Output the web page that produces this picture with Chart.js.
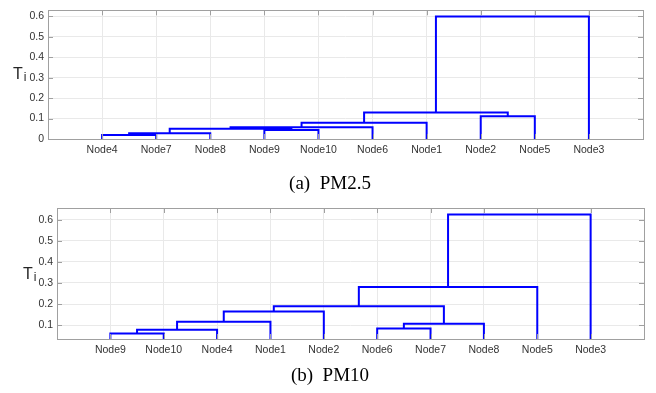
<!DOCTYPE html>
<html>
<head>
<meta charset="utf-8">
<script src="https://cdn.jsdelivr.net/npm/chart.js@4/dist/chart.umd.min.js"></script>
<style>
  body { margin: 0; background: #fff; width: 656px; height: 393px; position: relative; overflow: hidden; }
  canvas { position: absolute; left: 0; }
  .ylab { position: absolute; font-family: 'Liberation Sans', Arial, sans-serif; font-size: 16px; color: #262626; line-height: 1; }
  .ylab sub { font-size: 12px; position: relative; top: 2px; vertical-align: baseline; margin-left: 1px; }
  .cap { position: absolute; width: 656px; text-align: center; font-family: 'Liberation Serif', 'Times New Roman', serif; font-size: 19px; color: #000; }
</style>
</head>
<body>
<canvas id="pm25" width="656" height="165" style="top:0"></canvas>
<canvas id="pm10" width="656" height="170" style="top:195px"></canvas>
<div class="ylab" style="left:13px; top:66px">T<sub>i</sub></div>
<div class="ylab" style="left:23px; top:266px">T<sub>i</sub></div>
<div class="cap" style="left:2px; top:172px">(a)&nbsp; PM2.5</div>
<div class="cap" style="left:2px; top:364px">(b)&nbsp; PM10</div>
<script>
// (a) PM2.5 - leaf order and merges (cluster ids: leaves 0..9, merged clusters 10..)
var pm25Labels = ['Node4', 'Node7', 'Node8', 'Node9', 'Node10', 'Node6', 'Node1', 'Node2', 'Node5', 'Node3'];
var pm25Left = [0, 10, 3, 11, 13, 14, 7, 15, 17];
var pm25Right = [1, 2, 4, 12, 5, 6, 8, 16, 9];
var pm25Height = [0.019, 0.028, 0.044, 0.05, 0.057, 0.08, 0.111, 0.13, 0.6];
var pm25Ticks = [0, 0.1, 0.2, 0.3, 0.4, 0.5, 0.6];
var pm25Range = [0, 0.63];

// (b) PM10
var pm10Labels = ['Node9', 'Node10', 'Node4', 'Node1', 'Node2', 'Node6', 'Node7', 'Node8', 'Node5', 'Node3'];
var pm10Left = [0, 10, 11, 12, 5, 14, 13, 16, 17];
var pm10Right = [1, 2, 3, 4, 6, 7, 15, 8, 9];
var pm10Height = [0.06, 0.078, 0.116, 0.164, 0.084, 0.106, 0.19, 0.281, 0.625];
var pm10Ticks = [0.1, 0.2, 0.3, 0.4, 0.5, 0.6];
var pm10Range = [0.034, 0.656];

// turn the merge list into U-shaped links
function dendroLinks(labels, left, right, height) {
    var pos = [], h = [];
    labels.forEach(function (_, i) { pos.push(i + 1); h.push(0); });
    var links = [];
    for (var k = 0; k < left.length; k++) {
        var a = left[k], b = right[k];
        links.push({
            data: [
                { x: pos[a], y: h[a] },
                { x: pos[a], y: height[k] },
                { x: pos[b], y: height[k] },
                { x: pos[b], y: h[b] }
            ],
            borderColor: '#0000ff',
            borderWidth: 2,
            pointRadius: 0,
            showLine: true,
            fill: false
        });
        pos.push((pos[a] + pos[b]) / 2);
        h.push(height[k]);
    }
    return links;
}

// matlab style box with inward ticks
var boxPlugin = {
    id: 'box',
    afterDraw: function (chart) {
        var ctx = chart.ctx, a = chart.chartArea;
        var xs = chart.scales.x, ys = chart.scales.y;
        ctx.save();
        ctx.strokeStyle = '#a0a0a0';
        ctx.lineWidth = 1;
        ctx.beginPath();
        xs.ticks.forEach(function (t) {
            var px = Math.round(xs.getPixelForValue(t.value)) + 0.5;
            ctx.moveTo(px, a.bottom); ctx.lineTo(px, a.bottom - 5);
            ctx.moveTo(px, a.top); ctx.lineTo(px, a.top + 5);
        });
        ys.ticks.forEach(function (t) {
            var py = Math.round(ys.getPixelForValue(t.value)) + 0.5;
            ctx.moveTo(a.left, py); ctx.lineTo(a.left + 5, py);
            ctx.moveTo(a.right, py); ctx.lineTo(a.right - 5, py);
        });
        ctx.stroke();
        ctx.strokeRect(Math.round(a.left) + 0.5, Math.round(a.top) + 0.5,
            Math.round(a.right - a.left), Math.round(a.bottom - a.top));
        ctx.restore();
    }
};

function makeDendro(id, labels, left, right, height, yTicks, yRange, pad, yWidth) {
    var tickFont = { family: "'Liberation Sans', Arial, sans-serif", size: 10.5 };
    return new Chart(document.getElementById(id), {
        type: 'scatter',
        data: { datasets: dendroLinks(labels, left, right, height) },
        options: {
            responsive: false,
            animation: false,
            layout: { padding: pad },
            plugins: { legend: { display: false }, tooltip: { enabled: false } },
            scales: {
                x: {
                    type: 'linear',
                    min: 0,
                    max: labels.length + 1,
                    afterBuildTicks: function (s) {
                        s.ticks = labels.map(function (_, i) { return { value: i + 1 }; });
                    },
                    afterFit: function (s) { s.height = 26; },
                    ticks: {
                        autoSkip: false,
                        maxRotation: 0,
                        padding: 5,
                        color: '#333',
                        font: tickFont,
                        callback: function (v) { return labels[v - 1] || ''; }
                    },
                    grid: { color: '#e9e9e9', drawTicks: false },
                    border: { display: false }
                },
                y: {
                    min: yRange[0],
                    max: yRange[1],
                    afterBuildTicks: function (s) {
                        s.ticks = yTicks.map(function (v) { return { value: v }; });
                    },
                    afterFit: function (s) { s.width = yWidth; },
                    ticks: {
                        padding: 4,
                        color: '#333',
                        font: tickFont,
                        callback: function (v) { return String(v); }
                    },
                    grid: { color: '#e9e9e9', drawTicks: false },
                    border: { display: false }
                }
            }
        },
        plugins: [boxPlugin]
    });
}

makeDendro('pm25', pm25Labels, pm25Left, pm25Right, pm25Height, pm25Ticks, pm25Range,
    { left: 0, right: 13, top: 6, bottom: 0 }, 48);
makeDendro('pm10', pm10Labels, pm10Left, pm10Right, pm10Height, pm10Ticks, pm10Range,
    { left: 0, right: 12, top: 13, bottom: 0 }, 57);
</script>
</body>
</html>
